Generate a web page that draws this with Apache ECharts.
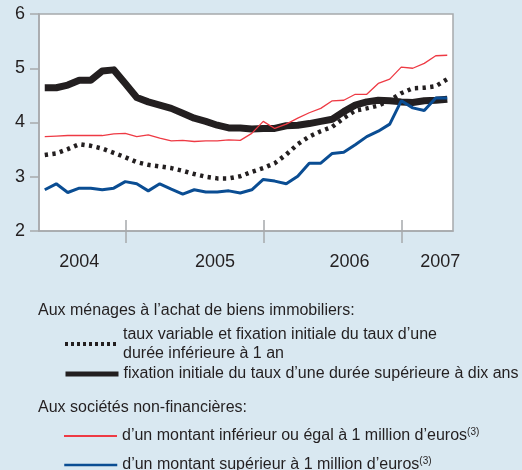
<!DOCTYPE html>
<html>
<head>
<meta charset="utf-8">
<script src="https://cdn.jsdelivr.net/npm/echarts@6/dist/echarts.min.js"></script>
<style>
  html, body { margin: 0; padding: 0; background: #d9e8f1; }
  #main { width: 522px; height: 470px; }
</style>
</head>
<body>
<div id="main"></div>
<script>
// mois de juin 2004 (0) à mai 2007 (35)
const months = [
  "2004-06", "2004-07", "2004-08", "2004-09", "2004-10", "2004-11", "2004-12",
  "2005-01", "2005-02", "2005-03", "2005-04", "2005-05", "2005-06", "2005-07",
  "2005-08", "2005-09", "2005-10", "2005-11", "2005-12",
  "2006-01", "2006-02", "2006-03", "2006-04", "2006-05", "2006-06", "2006-07",
  "2006-08", "2006-09", "2006-10", "2006-11", "2006-12",
  "2007-01", "2007-02", "2007-03", "2007-04", "2007-05"
];
// séparateurs d'années (janvier) et libellés
const yearTicks = [7, 19, 31];
const yearLabels = ["2004", "2005", "2006", "2007"];
const yearLabelAt = [3, 14.8, 26.5, 34.4];
const yTicks = [2, 3, 4, 5, 6];

const nameVar = "taux variable et fixation initiale du taux d’une\ndurée inférieure à 1 an";
const nameFix = "fixation initiale du taux d’une durée supérieure à dix ans";
const nameSmall = "d’un montant inférieur ou égal à 1 million d’euros";
const nameBig = "d’un montant supérieur à 1 million d’euros";

const tauxVariable = [
  3.40, 3.43, 3.51, 3.60, 3.57, 3.52, 3.44, 3.36, 3.27, 3.22, 3.19, 3.16,
  3.11, 3.05, 3.00, 2.97, 2.97, 3.01, 3.09, 3.16, 3.25, 3.41, 3.60, 3.74,
  3.84, 3.92, 4.08, 4.22, 4.26, 4.31, 4.41, 4.54, 4.63, 4.64, 4.67, 4.80
];
const tauxFixe = [
  4.64, 4.64, 4.69, 4.78, 4.78, 4.95, 4.97, 4.72, 4.46, 4.38, 4.32, 4.26,
  4.17, 4.08, 4.02, 3.95, 3.90, 3.90, 3.88, 3.89, 3.89, 3.94, 3.95, 3.98,
  4.02, 4.06, 4.20, 4.32, 4.38, 4.41, 4.40, 4.38, 4.37, 4.40, 4.41, 4.43
];
const snfPetit = [
  3.74, 3.75, 3.76, 3.76, 3.76, 3.76, 3.79, 3.80, 3.74, 3.77, 3.71, 3.66,
  3.67, 3.65, 3.66, 3.66, 3.68, 3.67, 3.80, 4.02, 3.89, 3.97, 4.08, 4.18,
  4.26, 4.40, 4.41, 4.52, 4.52, 4.72, 4.80, 5.02, 5.00, 5.09, 5.23, 5.24
];
const snfGrand = [
  2.76, 2.87, 2.71, 2.79, 2.79, 2.76, 2.79, 2.91, 2.87, 2.74, 2.87, 2.77,
  2.68, 2.76, 2.72, 2.72, 2.74, 2.70, 2.76, 2.95, 2.92, 2.87, 3.01, 3.25,
  3.25, 3.43, 3.45, 3.59, 3.74, 3.84, 3.97, 4.40, 4.27, 4.22, 4.45, 4.45
];

const axisColor = "#a7a9ac";
const textColor = "#231f20";
const redColor = "#ee3a44";
const blueColor = "#0a4d93";
const font = "Liberation Sans, Arial, sans-serif";

const toPoints = arr => arr.map((v, i) => [i, v]);

var myChart = echarts.init(document.getElementById("main"));

const legendText = {
  color: textColor,
  fontSize: 16,
  lineHeight: 18,
  fontFamily: font,
  rich: {
    t: { fontSize: 16, lineHeight: 18, fontFamily: font, color: textColor },
    s: { fontSize: 10, fontFamily: font, color: textColor, verticalAlign: "top", lineHeight: 10 }
  }
};
const legendBase = {
  left: 63,
  padding: 0,
  itemWidth: 53,
  itemHeight: 14,
  selectedMode: false
};

myChart.setOption({
  backgroundColor: "#d9e8f1",
  animation: false,
  textStyle: { fontFamily: font },
  grid: {
    left: 39,
    top: 14,
    right: 69,
    bottom: 239,
    show: true,
    backgroundColor: "#ffffff",
    borderColor: axisColor,
    borderWidth: 1.5
  },
  title: [
    {
      text: "Aux ménages à l’achat de biens immobiliers:",
      left: 38,
      top: 303,
      padding: 0,
      textStyle: { fontSize: 16, fontWeight: "normal", color: textColor, fontFamily: font }
    },
    {
      text: "Aux sociétés non-financières:",
      left: 38,
      top: 400,
      padding: 0,
      textStyle: { fontSize: 16, fontWeight: "normal", color: textColor, fontFamily: font }
    }
  ],
  legend: [
    Object.assign({}, legendBase, {
      top: 325,
      data: [{ name: nameVar, itemStyle: { opacity: 0 }, lineStyle: { width: 4, type: [3, 3], color: textColor } }],
      textStyle: Object.assign({}, legendText, { lineHeight: 19 })
    }),
    Object.assign({}, legendBase, {
      top: 365,
      data: [{ name: nameFix, itemStyle: { opacity: 0 }, lineStyle: { width: 5, color: textColor } }],
      textStyle: legendText
    }),
    Object.assign({}, legendBase, {
      top: 427,
      data: [{ name: nameSmall, itemStyle: { opacity: 0 }, lineStyle: { width: 2, color: redColor } }],
      textStyle: legendText,
      formatter: name => "{t|" + name + "}{s|(3)}"
    }),
    Object.assign({}, legendBase, {
      top: 456,
      data: [{ name: nameBig, itemStyle: { opacity: 0 }, lineStyle: { width: 2.5, color: blueColor } }],
      textStyle: legendText,
      formatter: name => "{t|" + name + "}{s|(3)}"
    })
  ],
  xAxis: [
    {
      type: "value",
      min: -0.5,
      max: 35.5,
      position: "bottom",
      axisLine: { show: true, onZero: false, lineStyle: { color: axisColor, width: 1.5 } },
      axisTick: {
        show: true,
        length: 12,
        customValues: yearTicks,
        lineStyle: { color: axisColor, width: 1.5 }
      },
      axisLabel: {
        customValues: yearLabelAt,
        formatter: v => yearLabels[yearLabelAt.indexOf(v)] || "",
        margin: 22,
        fontSize: 18,
        color: textColor,
        fontFamily: font
      },
      splitLine: { show: false }
    },
    {
      type: "value",
      min: -0.5,
      max: 35.5,
      position: "bottom",
      axisLine: { show: false, onZero: false },
      axisTick: {
        show: true,
        inside: true,
        length: 11,
        customValues: yearTicks,
        lineStyle: { color: axisColor, width: 1.5 }
      },
      axisLabel: { show: false },
      splitLine: { show: false }
    }
  ],
  yAxis: {
    type: "value",
    min: yTicks[0],
    max: yTicks[yTicks.length - 1],
    interval: 1,
    axisLine: { show: true, onZero: false, lineStyle: { color: axisColor, width: 1.5 } },
    axisTick: { show: true, length: 9, lineStyle: { color: axisColor, width: 1.5 } },
    axisLabel: { fontSize: 18, color: textColor, margin: 14, fontFamily: font, padding: [3, 0, 0, 0] },
    splitLine: { show: false }
  },
  series: [
    {
      name: nameFix,
      type: "line",
      data: toPoints(tauxFixe),
      symbol: "none",
      lineStyle: { width: 7, color: textColor, join: "round" },
      itemStyle: { color: textColor }
    },
    {
      name: nameVar,
      type: "line",
      data: toPoints(tauxVariable),
      symbol: "none",
      lineStyle: { width: 4.5, color: textColor, type: [3.3, 4.4] },
      itemStyle: { color: textColor }
    },
    {
      name: nameSmall,
      type: "line",
      data: toPoints(snfPetit),
      symbol: "none",
      lineStyle: { width: 1.3, color: redColor },
      itemStyle: { color: redColor }
    },
    {
      name: nameBig,
      type: "line",
      data: toPoints(snfGrand),
      symbol: "none",
      lineStyle: { width: 3, color: blueColor },
      itemStyle: { color: blueColor }
    }
  ]
});
</script>
</body>
</html>
